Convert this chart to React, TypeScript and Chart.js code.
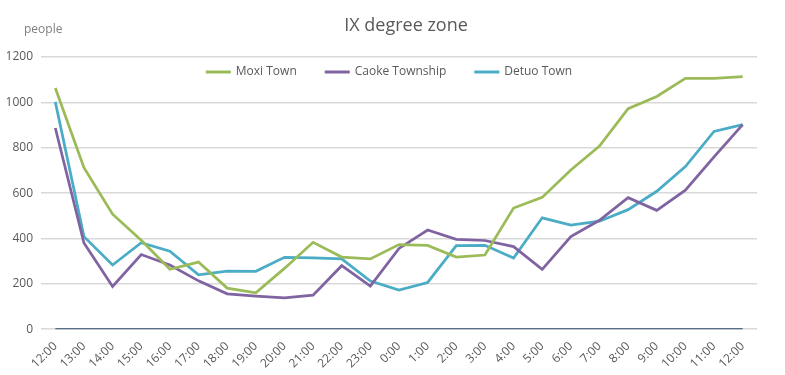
import React, { useEffect, useRef } from "react";
import { Chart, registerables } from "chart.js";

Chart.register(...registerables);

const hours = [
  "12:00", "13:00", "14:00", "15:00", "16:00", "17:00", "18:00", "19:00", "20:00",
  "21:00", "22:00", "23:00", "0:00", "1:00", "2:00", "3:00", "4:00", "5:00", "6:00",
  "7:00", "8:00", "9:00", "10:00", "11:00", "12:00",
];

const moxiTown = [1063, 712, 507, 392, 264, 296, 181, 160, 268, 383, 318, 310, 373, 369, 318, 327, 534, 581, 702, 807, 972, 1026, 1106, 1106, 1114];
const caokeTownship = [887, 380, 188, 329, 283, 213, 156, 146, 138, 150, 280, 190, 356, 437, 396, 391, 364, 264, 408, 480, 580, 524, 613, 760, 902];
const detuoTown = [1002, 408, 283, 381, 344, 240, 256, 255, 317, 314, 310, 212, 172, 206, 368, 370, 314, 491, 459, 476, 527, 608, 717, 872, 902];
const baseline = [0, 0, 0, 0, 0, 0, 0, 0, 0, 0, 0, 0, 0, 0, 0, 0, 0, 0, 0, 0, 0, 0, 0, 0, 0];

const yTicks = [0, 200, 400, 600, 800, 1000, 1200];

const titleText = "IX degree zone";
const yUnitText = "people";

const FONT = "'Open Sans', 'Noto Sans', sans-serif";
const TEXT = "#595959";

export default function App() {
  const ref = useRef<HTMLCanvasElement | null>(null);

  useEffect(() => {
    if (!ref.current) return;
    const decorPlugin = {
      id: "decor",
      afterDraw(chart: any) {
        const ctx = chart.ctx;
        ctx.save();
        // title
        ctx.font = `18px ${FONT}`;
        ctx.fillStyle = TEXT;
        ctx.textAlign = "center";
        ctx.textBaseline = "alphabetic";
        ctx.fillText(titleText, 406, 31);
        // y unit
        ctx.font = `12px ${FONT}`;
        ctx.fillStyle = "#7f7f7f";
        ctx.textAlign = "left";
        ctx.textBaseline = "middle";
        ctx.fillText(yUnitText, 24, 30);
        // legend
        const items = chart.data.datasets.filter((d: any) => d.label !== "baseline");
        ctx.font = `12px ${FONT}`;
        const lineW = 25, gap = 5, pad = 28;
        let total = 0;
        items.forEach((d: any, i: number) => {
          total += lineW + gap + ctx.measureText(d.label).width + (i < items.length - 1 ? pad : 0);
        });
        let x = 389 - total / 2;
        const y = 72;
        items.forEach((d: any) => {
          ctx.strokeStyle = d.borderColor;
          ctx.lineWidth = 3;
          ctx.beginPath();
          ctx.moveTo(x, y);
          ctx.lineTo(x + lineW, y);
          ctx.stroke();
          x += lineW + gap;
          ctx.fillStyle = TEXT;
          ctx.textAlign = "left";
          ctx.textBaseline = "middle";
          ctx.fillText(d.label, x, y);
          x += ctx.measureText(d.label).width + pad;
        });
        ctx.restore();
      },
    };
    const chart = new Chart(ref.current, {
      type: "line",
      data: {
        labels: hours,
        datasets: [
          { label: "Moxi Town", data: moxiTown, borderColor: "#9bbb59", backgroundColor: "#9bbb59", borderWidth: 2.75, pointRadius: 0, tension: 0 },
          { label: "Caoke Township", data: caokeTownship, borderColor: "#8064a2", backgroundColor: "#8064a2", borderWidth: 2.75, pointRadius: 0, tension: 0 },
          { label: "Detuo Town", data: detuoTown, borderColor: "#4bacc6", backgroundColor: "#4bacc6", borderWidth: 2.75, pointRadius: 0, tension: 0 },
          { label: "baseline", data: baseline, borderColor: "#2f4a6d", backgroundColor: "#2f4a6d", borderWidth: 2, pointRadius: 0, tension: 0 },
        ],
      },
      options: {
        animation: false,
        responsive: false,
        layout: { padding: { left: 7, right: 28, top: 57, bottom: 2 } },
        plugins: {
          title: { display: false },
          legend: { display: false },
          tooltip: { enabled: false },
        },
        scales: {
          x: {
            offset: true,
            grid: { display: false },
            border: { display: false },
            afterFit: (scale: any) => {
              scale.paddingLeft = 0;
              scale.paddingRight = 0;
            },
            ticks: {
              minRotation: 45,
              maxRotation: 45,
              autoSkip: false,
              color: TEXT,
              font: { family: FONT, size: 12 },
              padding: 2,
            },
          },
          y: {
            min: 0,
            max: 1200,
            afterBuildTicks: (axis: any) => {
              axis.ticks = yTicks.map((v) => ({ value: v }));
            },
            afterFit: (scale: any) => {
              scale.width = 34;
            },
            grid: { color: "#d9d9d9", lineWidth: 1.5, drawTicks: false },
            border: { display: false },
            ticks: {
              color: TEXT,
              font: { family: FONT, size: 12 },
              padding: 8,
              callback: (v: any) => String(v),
            },
          },
        },
      },
      plugins: [decorPlugin],
    });
    return () => chart.destroy();
  }, []);

  return (
    <div style={{ position: "fixed", left: 0, top: 0, width: 785, height: 375, background: "#fff" }}>
      <canvas ref={ref} width={785} height={375} style={{ width: 785, height: 375 }} />
    </div>
  );
}
